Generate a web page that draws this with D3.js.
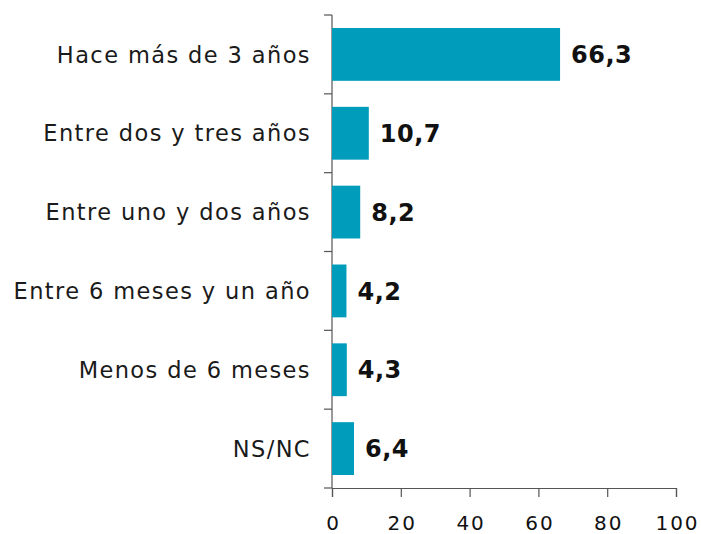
<!DOCTYPE html>
<html>
<head>
<meta charset="utf-8">
<script src="https://cdn.jsdelivr.net/npm/d3@7"></script>
<style>
  body { margin: 0; background: #fff; }
  svg text { font-family: "DejaVu Sans", Verdana, sans-serif; }
</style>
</head>
<body>
<div id="chart"></div>
<script>
const categories = [
  'Hace más de 3 años',
  'Entre dos y tres años',
  'Entre uno y dos años',
  'Entre 6 meses y un año',
  'Menos de 6 meses',
  'NS/NC'
];
const values = [66.3, 10.7, 8.2, 4.2, 4.3, 6.4];
const ticks = [0, 20, 40, 60, 80, 100];

const width = 701;
const height = 534;
const margin = { top: 15, right: 25, bottom: 46, left: 332 };

const svg = d3.select('#chart').append('svg').attr('width', width).attr('height', height);

const x = d3.scaleLinear().domain([0, 100]).range([margin.left, width - margin.right]);
const y = d3
  .scaleBand()
  .domain(categories)
  .range([margin.top, height - margin.bottom])
  .paddingInner(0.33)
  .paddingOuter(0.165);

// y axis line and ticks between categories
const yEdges = d3.range(categories.length + 1).map((i) => margin.top + (i * (height - margin.bottom - margin.top)) / categories.length);
svg
  .append('line')
  .attr('x1', x(0))
  .attr('x2', x(0))
  .attr('y1', margin.top)
  .attr('y2', height - margin.bottom)
  .attr('stroke', '#555')
  .attr('stroke-width', 1.2);
svg
  .append('g')
  .selectAll('line')
  .data(yEdges)
  .enter()
  .append('line')
  .attr('x1', x(0) - 8)
  .attr('x2', x(0))
  .attr('y1', (d) => d)
  .attr('y2', (d) => d)
  .attr('stroke', '#555')
  .attr('stroke-width', 1.2);

// x axis
const xAxis = svg
  .append('g')
  .attr('transform', `translate(0,${height - margin.bottom})`)
  .call(d3.axisBottom(x).tickValues(ticks).tickSize(9).tickPadding(19).tickFormat(d3.format('d')));
xAxis.select('.domain').attr('stroke', '#555').attr('stroke-width', 1.2);
xAxis.selectAll('.tick line').attr('stroke', '#555').attr('stroke-width', 1.2);
xAxis
  .selectAll('.tick text')
  .attr('font-size', 20)
  .attr('fill', '#111')
  .attr('dx', 1)
  .style('letter-spacing', '2px')
  .style('font-family', '"DejaVu Sans", Verdana, sans-serif');

// bars
svg
  .append('g')
  .selectAll('rect')
  .data(values)
  .enter()
  .append('rect')
  .attr('x', x(0))
  .attr('y', (d, i) => y(categories[i]))
  .attr('width', (d) => x(d) - x(0))
  .attr('height', y.bandwidth())
  .attr('fill', '#009cbb');

// value labels
svg
  .append('g')
  .selectAll('text')
  .data(values)
  .enter()
  .append('text')
  .attr('x', (d) => x(d) + 11)
  .attr('y', (d, i) => y(categories[i]) + y.bandwidth() / 2)
  .attr('dy', '0.36em')
  .attr('font-size', 24)
  .attr('font-weight', 'bold')
  .attr('fill', '#111')
  .style('letter-spacing', '0.5px')
  .text((d) => d.toFixed(1).replace('.', ','));

// category labels
svg
  .append('g')
  .selectAll('text')
  .data(categories)
  .enter()
  .append('text')
  .attr('x', 311)
  .attr('y', (d) => y(d) + y.bandwidth() / 2)
  .attr('dy', '0.36em')
  .attr('text-anchor', 'end')
  .attr('font-size', 22.5)
  .attr('fill', '#1a1a1a')
  .style('letter-spacing', '1.4px')
  .text((d) => d);
</script>
</body>
</html>
